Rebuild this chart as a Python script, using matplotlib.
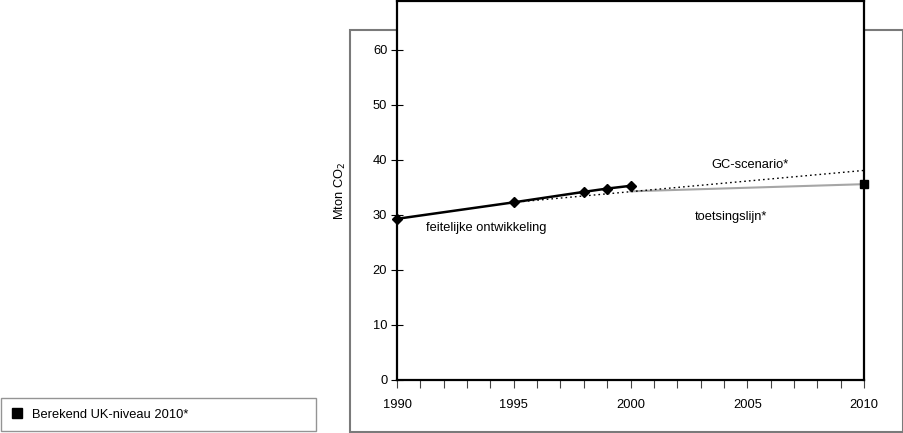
import matplotlib.pyplot as plt
from matplotlib.patches import Rectangle

# Data
jaren_feitelijk = [1990, 1995, 1998, 1999, 2000]
feitelijk = [29.3, 32.3, 34.2, 34.8, 35.3]

jaren_gc = [1995, 2010]
gc_scenario = [32.3, 38.1]

jaren_toets = [2000, 2010]
toetsingslijn = [34.3, 35.6]

jaar_uk = [2010]
uk_niveau = [35.6]

x_ticks = [1990, 1995, 2000, 2005, 2010]
y_ticks = [0, 10, 20, 30, 40, 50, 60]

plt.rcParams['font.family'] = ['Liberation Sans', 'DejaVu Sans']
FS = 9.3

W, H = 904, 433
fig = plt.figure(figsize=(W / 100, H / 100), dpi=100)

# outer grey frame
fig.patches.append(Rectangle((350 / W, 1 - 432 / H), 553 / W, 402 / H,
                             transform=fig.transFigure, fill=False,
                             edgecolor='#7a7a7a', linewidth=1.5, zorder=0))

ax = fig.add_axes([397 / W, 1 - 380 / H, 467 / W, 379 / H])
ax.set_zorder(2)

ax.plot(jaren_toets, toetsingslijn, color='#a6a6a6', linewidth=1.5, zorder=2)
ax.plot(jaren_gc, gc_scenario, color='black', linestyle=(0, (1.2, 2.2)),
        linewidth=1.0, zorder=3)
ax.plot(jaren_feitelijk, feitelijk, color='black', linewidth=1.8,
        marker='D', markersize=5, clip_on=False, zorder=4)
ax.plot(jaar_uk, uk_niveau, color='black', linestyle='none', marker='s',
        markersize=5.5, clip_on=False, zorder=5, label='Berekend UK-niveau 2010*')

ax.set_xlim(1990, 2010)
ax.set_ylim(0, 68.9)
ax.set_xticks(x_ticks)
ax.set_xticks(range(1990, 2011), minor=True)
ax.set_yticks(y_ticks)

for s in ax.spines.values():
    s.set_linewidth(1.6)
    s.set_color('black')

ax.tick_params(axis='y', direction='inout', length=8, width=0.8, labelsize=FS, pad=3)
ax.tick_params(axis='x', which='both', direction='out', length=6, width=0.8,
               labelsize=FS, pad=8, color='#444444')

ax.set_ylabel('Mton CO$_2$', fontsize=FS, labelpad=18)

ax.text(1993.8, 27.6, 'feitelijke ontwikkeling', fontsize=FS, ha='center', va='center')
ax.text(2005.1, 39.1, 'GC-scenario*', fontsize=FS, ha='center', va='center')
ax.text(2004.3, 29.6, 'toetsingslijn*', fontsize=FS, ha='center', va='center')

fig.legend(loc='lower left', bbox_to_anchor=(1 / W, 1 - 431 / H, 315 / W, 36 / H),
           mode='expand', fontsize=FS, frameon=True, fancybox=False,
           edgecolor='#7a7a7a', handlelength=0.8, handletextpad=0.8,
           borderaxespad=0, borderpad=0.8, markerscale=1.3)

fig.savefig('out.png', dpi=100)
